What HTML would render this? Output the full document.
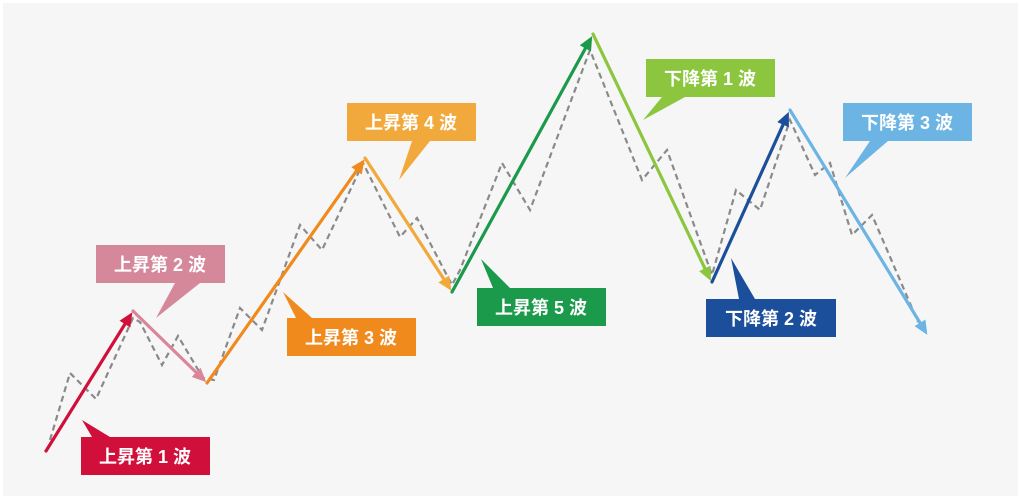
<!DOCTYPE html>
<html><head><meta charset="utf-8"><style>
html,body{margin:0;padding:0;background:#fff;}
svg{display:block;}
text{font-family:"Liberation Sans","Noto Sans CJK JP",sans-serif;font-weight:bold;font-size:18px;fill:#fff;}
</style></head><body>
<svg width="1021" height="499" viewBox="0 0 1021 499" xmlns="http://www.w3.org/2000/svg">
<defs>
<marker id="a1" markerWidth="4.4" markerHeight="4" refX="3" refY="2" orient="auto" markerUnits="strokeWidth"><path d="M0,0 L4.4,2 L0,4 Z" fill="#d0103a"/></marker>
<marker id="a2" markerWidth="4.4" markerHeight="4" refX="3" refY="2" orient="auto" markerUnits="strokeWidth"><path d="M0,0 L4.4,2 L0,4 Z" fill="#d9859a"/></marker>
<marker id="a3" markerWidth="4.4" markerHeight="4" refX="3" refY="2" orient="auto" markerUnits="strokeWidth"><path d="M0,0 L4.4,2 L0,4 Z" fill="#f08a1c"/></marker>
<marker id="a4" markerWidth="4.4" markerHeight="4" refX="3" refY="2" orient="auto" markerUnits="strokeWidth"><path d="M0,0 L4.4,2 L0,4 Z" fill="#f2a93b"/></marker>
<marker id="a5" markerWidth="4.4" markerHeight="4" refX="3" refY="2" orient="auto" markerUnits="strokeWidth"><path d="M0,0 L4.4,2 L0,4 Z" fill="#1a9a4a"/></marker>
<marker id="b1" markerWidth="4.4" markerHeight="4" refX="3" refY="2" orient="auto" markerUnits="strokeWidth"><path d="M0,0 L4.4,2 L0,4 Z" fill="#8cc63f"/></marker>
<marker id="b2" markerWidth="4.4" markerHeight="4" refX="3" refY="2" orient="auto" markerUnits="strokeWidth"><path d="M0,0 L4.4,2 L0,4 Z" fill="#1b4f9c"/></marker>
<marker id="b3" markerWidth="4.4" markerHeight="4" refX="3" refY="2" orient="auto" markerUnits="strokeWidth"><path d="M0,0 L4.4,2 L0,4 Z" fill="#6cb4e4"/></marker>
</defs>
<rect x="3" y="3" width="1015" height="493" fill="#f6f6f6"/>
<polyline fill="none" stroke="#8a8a8a" stroke-width="2.2" stroke-dasharray="6,4" points="50,440 70,373 96,399 133,318 140,322 162,365 178,336 203,378 214,380 240,308 262,330 300,225 322,250 363,163 400,237 417,218 452,285 460,270 502,163 530,210 590,50 642,180 667,150 712,275 736,190 760,210 790,120 815,175 830,163 852,235 872,215 918,322"/>
<g stroke-width="3.2" fill="none" stroke-linecap="round">
<line x1="46" y1="451" x2="130" y2="316" stroke="#d0103a" marker-end="url(#a1)"/>
<line x1="133" y1="311" x2="203" y2="379" stroke="#d9859a" marker-end="url(#a2)"/>
<line x1="207" y1="383" x2="362" y2="163" stroke="#f08a1c" marker-end="url(#a3)"/>
<line x1="365" y1="158" x2="449" y2="287" stroke="#f2a93b" marker-end="url(#a4)"/>
<line x1="452" y1="292" x2="590" y2="40" stroke="#1a9a4a" marker-end="url(#a5)"/>
<line x1="593" y1="34" x2="709" y2="277" stroke="#8cc63f" marker-end="url(#b1)"/>
<line x1="712" y1="282" x2="787" y2="116" stroke="#1b4f9c" marker-end="url(#b2)"/>
<line x1="790" y1="110" x2="925" y2="331" stroke="#6cb4e4" marker-end="url(#b3)"/>
</g>
<g>
<path d="M81,437 H210 V475 H81 Z M82,420 L110,437 H92 Z" fill="#d0103a"/>
<text x="145" y="463" text-anchor="middle">上昇第 1 波</text>
<path d="M96,245 H225 V283 H96 Z M156,318 L175,283 H200 Z" fill="#d6889b"/>
<text x="160" y="271" text-anchor="middle">上昇第 2 波</text>
<path d="M287,318 H416 V356 H287 Z M283,292 L312,318 H296 Z" fill="#f08a1c"/>
<text x="351" y="344" text-anchor="middle">上昇第 3 波</text>
<path d="M347,103 H476 V141 H347 Z M399,180 L412,141 H430 Z" fill="#f2a93b"/>
<text x="411" y="129" text-anchor="middle">上昇第 4 波</text>
<path d="M477,288 H606 V326 H477 Z M481,259 L510,288 H493 Z" fill="#1a9a4a"/>
<text x="541" y="314" text-anchor="middle">上昇第 5 波</text>
<path d="M646,59 H775 V97 H646 Z M643,120 L662,97 H685 Z" fill="#8cc63f"/>
<text x="710" y="85" text-anchor="middle">下降第 1 波</text>
<path d="M706,299 H836 V337 H706 Z M731,258 L755,299 H739 Z" fill="#1b4f9c"/>
<text x="771" y="325" text-anchor="middle">下降第 2 波</text>
<path d="M843,103 H972 V141 H843 Z M845,178 L870,141 H888 Z" fill="#6cb4e4"/>
<text x="907" y="129" text-anchor="middle">下降第 3 波</text>
</g>
</svg>
</body></html>
